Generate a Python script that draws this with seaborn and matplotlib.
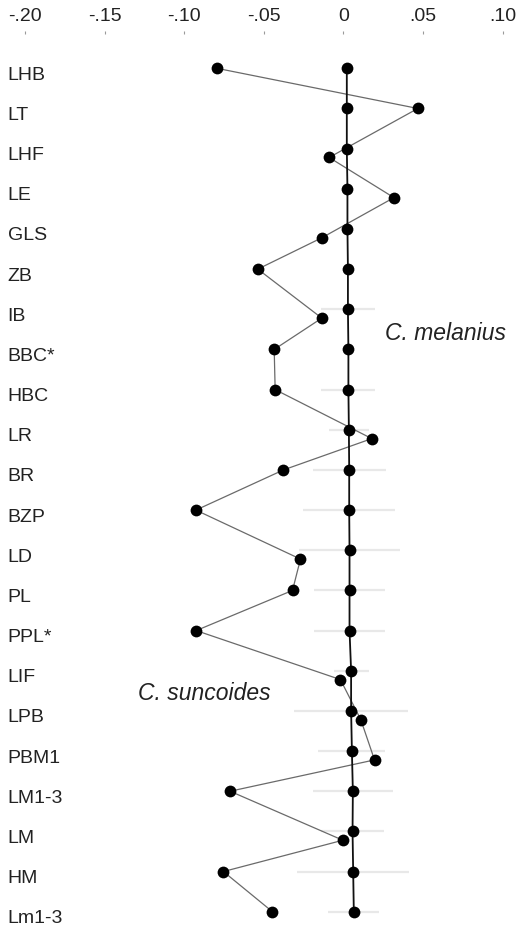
import numpy as np
import pandas as pd
import seaborn as sns
import matplotlib.pyplot as plt
from matplotlib.transforms import ScaledTranslation

traits = ["LHB", "LT", "LHF", "LE", "GLS", "ZB", "IB", "BBC*", "HBC", "LR", "BR",
          "BZP", "LD", "PL", "PPL*", "LIF", "LPB", "PBM1", "LM1-3", "LM", "HM", "Lm1-3"]

# C. suncoides, deviation
suncoides = [-0.0795, 0.0467, -0.0090, 0.0317, -0.0136, -0.0538, -0.0136, -0.0435,
             -0.0429, 0.0178, -0.0377, -0.0927, -0.0270, -0.0320, -0.0925, -0.0019,
             0.0109, 0.0195, -0.0712, -0.0004, -0.0754, -0.0446]

# C. melanius (reference, drifts slightly because of the scan)
melanius = [0.0021, 0.0021, 0.0021, 0.0025, 0.0025, 0.0028, 0.0028, 0.0031, 0.0031,
            0.0034, 0.0036, 0.0036, 0.0038, 0.0038, 0.0038, 0.0048, 0.0048, 0.0053,
            0.0059, 0.0057, 0.0061, 0.0065]

# faint bars around the C. melanius points (half widths)
spread = [0, 0, 0, 0, 0, 0, 0.017, 0, 0.017, 0.0125, 0.023, 0.029, 0.032, 0.022,
          0.022, 0.011, 0.036, 0.021, 0.025, 0.020, 0.035, 0.016]

# rows where the C. suncoides dot sits a little lower
lowered = [0, 0, 1, 1, 1, 0, 1, 0, 0, 1, 0, 0, 1, 0, 0, 1, 1, 1, 0, 1, 0, 0]

xticks = [-0.20, -0.15, -0.10, -0.05, 0, 0.05, 0.10]
xticklabels = ["-.20", "-.15", "-.10", "-.05", "0", ".05", ".10"]

sns.set_style("white")
plt.rcParams['font.family'] = ['Liberation Sans', 'DejaVu Sans']

fig = plt.figure(figsize=(5.27, 9.31), dpi=100)
ax = fig.add_axes([25 / 527, 0, 477.7 / 527, 900 / 931])

row = np.arange(len(traits))
df = pd.DataFrame({"trait": traits, "row": row,
                   "suncoides": suncoides, "melanius": melanius,
                   "spread": spread, "lowered": lowered})
df["row_s"] = df.row + 0.22 * df.lowered

bars = df[df.spread > 0]
ax.hlines(bars.row, bars.melanius - bars.spread, bars.melanius + bars.spread,
          color="#e8e8e8", lw=1.6, zorder=1)

sns.lineplot(data=df, x="suncoides", y="row_s", sort=False, estimator=None,
             color="#6a6a6a", lw=0.9, ax=ax, zorder=2)
sns.lineplot(data=df, x="melanius", y="row", sort=False, estimator=None,
             color="#111111", lw=1.3, ax=ax, zorder=3)
sns.scatterplot(data=df, x="suncoides", y="row_s", color="black", s=72,
                linewidth=0, ax=ax, zorder=4, clip_on=False)
sns.scatterplot(data=df, x="melanius", y="row", color="black", s=72,
                linewidth=0, ax=ax, zorder=4, clip_on=False)

ax.set_xlim(-0.2, 0.1)
ax.set_ylim(21.48, -0.929)
ax.set_xlabel("")
ax.set_ylabel("")
sns.despine(ax=ax, left=True, bottom=True, top=True, right=True)

ax.xaxis.tick_top()
ax.set_xticks(xticks, xticklabels)
ax.tick_params(axis="x", direction="in", length=2.5, width=0.8, color="#9a9a9a",
               pad=4, labelsize=14, labelcolor="#222222")

ax.set_yticks(row, traits)
ax.tick_params(axis="y", length=0, pad=12.5, labelsize=14, labelcolor="#222222")
shift = ScaledTranslation(0, -0.115, fig.dpi_scale_trans)
for t in ax.yaxis.get_major_ticks():
    t.label1.set_horizontalalignment("left")
    t.label1.set_verticalalignment("baseline")
    t.label1.set_transform(t.label1.get_transform() + shift)

ax.text(0.0262, 6.765, "C. melanius", style="italic", fontsize=16.5,
        color="#222222", ha="left", va="baseline")
ax.text(-0.1288, 15.73, "C. suncoides", style="italic", fontsize=16.5,
        color="#222222", ha="left", va="baseline")

fig.savefig("out.png", dpi=100)
